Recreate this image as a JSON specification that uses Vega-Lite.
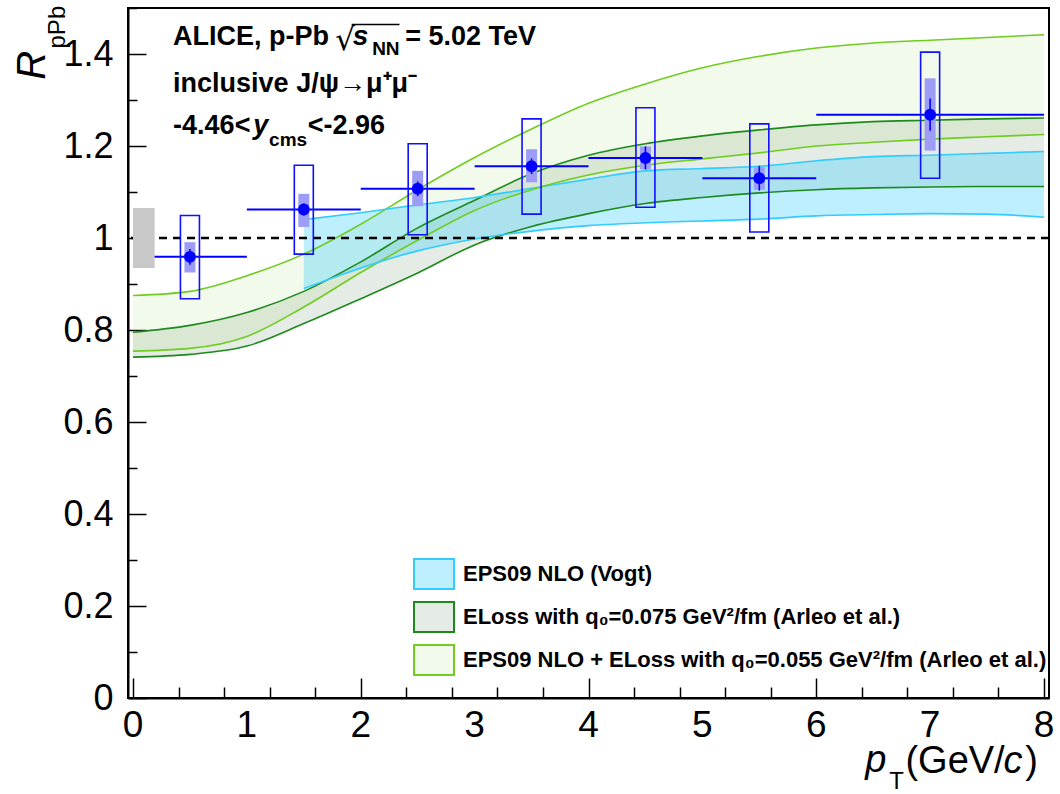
{
  "$schema": "https://vega.github.io/schema/vega-lite/v6.json",
  "width": 921,
  "height": 690,
  "autosize": {"type": "none"},
  "padding": {"left": 128, "top": 8, "right": 11, "bottom": 96},
  "background": "white",
  "config": {
    "view": {"stroke": "black", "strokeWidth": 2},
    "font": "Liberation Sans",
    "text": {"font": "Liberation Sans", "color": "black"}
  },
  "datasets": {
    "bands": [
      {"pt": 0, "model": "EPS09 NLO + ELoss with  q₀=0.055 GeV²/fm (Arleo et al.)", "lo": 0.754, "hi": 0.875},
      {"pt": 0.5, "model": "EPS09 NLO + ELoss with  q₀=0.055 GeV²/fm (Arleo et al.)", "lo": 0.760, "hi": 0.884},
      {"pt": 1, "model": "EPS09 NLO + ELoss with  q₀=0.055 GeV²/fm (Arleo et al.)", "lo": 0.786, "hi": 0.918},
      {"pt": 1.5, "model": "EPS09 NLO + ELoss with  q₀=0.055 GeV²/fm (Arleo et al.)", "lo": 0.850, "hi": 0.965},
      {"pt": 2, "model": "EPS09 NLO + ELoss with  q₀=0.055 GeV²/fm (Arleo et al.)", "lo": 0.925, "hi": 1.030},
      {"pt": 2.5, "model": "EPS09 NLO + ELoss with  q₀=0.055 GeV²/fm (Arleo et al.)", "lo": 0.995, "hi": 1.105},
      {"pt": 3, "model": "EPS09 NLO + ELoss with  q₀=0.055 GeV²/fm (Arleo et al.)", "lo": 1.060, "hi": 1.175},
      {"pt": 3.5, "model": "EPS09 NLO + ELoss with  q₀=0.055 GeV²/fm (Arleo et al.)", "lo": 1.105, "hi": 1.237},
      {"pt": 4, "model": "EPS09 NLO + ELoss with  q₀=0.055 GeV²/fm (Arleo et al.)", "lo": 1.137, "hi": 1.293},
      {"pt": 4.5, "model": "EPS09 NLO + ELoss with  q₀=0.055 GeV²/fm (Arleo et al.)", "lo": 1.158, "hi": 1.335},
      {"pt": 5, "model": "EPS09 NLO + ELoss with  q₀=0.055 GeV²/fm (Arleo et al.)", "lo": 1.172, "hi": 1.370},
      {"pt": 5.5, "model": "EPS09 NLO + ELoss with  q₀=0.055 GeV²/fm (Arleo et al.)", "lo": 1.185, "hi": 1.395},
      {"pt": 6, "model": "EPS09 NLO + ELoss with  q₀=0.055 GeV²/fm (Arleo et al.)", "lo": 1.200, "hi": 1.413},
      {"pt": 6.5, "model": "EPS09 NLO + ELoss with  q₀=0.055 GeV²/fm (Arleo et al.)", "lo": 1.208, "hi": 1.424},
      {"pt": 7, "model": "EPS09 NLO + ELoss with  q₀=0.055 GeV²/fm (Arleo et al.)", "lo": 1.215, "hi": 1.430},
      {"pt": 7.5, "model": "EPS09 NLO + ELoss with  q₀=0.055 GeV²/fm (Arleo et al.)", "lo": 1.220, "hi": 1.436},
      {"pt": 8, "model": "EPS09 NLO + ELoss with  q₀=0.055 GeV²/fm (Arleo et al.)", "lo": 1.225, "hi": 1.442},
      {"pt": 0, "model": "ELoss with  q₀=0.075 GeV²/fm (Arleo et al.)", "lo": 0.741, "hi": 0.795},
      {"pt": 0.5, "model": "ELoss with  q₀=0.075 GeV²/fm (Arleo et al.)", "lo": 0.747, "hi": 0.810},
      {"pt": 1, "model": "ELoss with  q₀=0.075 GeV²/fm (Arleo et al.)", "lo": 0.765, "hi": 0.838},
      {"pt": 1.5, "model": "ELoss with  q₀=0.075 GeV²/fm (Arleo et al.)", "lo": 0.814, "hi": 0.884},
      {"pt": 2, "model": "ELoss with  q₀=0.075 GeV²/fm (Arleo et al.)", "lo": 0.868, "hi": 0.948},
      {"pt": 2.5, "model": "ELoss with  q₀=0.075 GeV²/fm (Arleo et al.)", "lo": 0.924, "hi": 1.022},
      {"pt": 3, "model": "ELoss with  q₀=0.075 GeV²/fm (Arleo et al.)", "lo": 0.985, "hi": 1.082},
      {"pt": 3.5, "model": "ELoss with  q₀=0.075 GeV²/fm (Arleo et al.)", "lo": 1.025, "hi": 1.140},
      {"pt": 4, "model": "ELoss with  q₀=0.075 GeV²/fm (Arleo et al.)", "lo": 1.053, "hi": 1.180},
      {"pt": 4.5, "model": "ELoss with  q₀=0.075 GeV²/fm (Arleo et al.)", "lo": 1.075, "hi": 1.205},
      {"pt": 5, "model": "ELoss with  q₀=0.075 GeV²/fm (Arleo et al.)", "lo": 1.088, "hi": 1.222},
      {"pt": 5.5, "model": "ELoss with  q₀=0.075 GeV²/fm (Arleo et al.)", "lo": 1.098, "hi": 1.235},
      {"pt": 6, "model": "ELoss with  q₀=0.075 GeV²/fm (Arleo et al.)", "lo": 1.105, "hi": 1.246},
      {"pt": 6.5, "model": "ELoss with  q₀=0.075 GeV²/fm (Arleo et al.)", "lo": 1.109, "hi": 1.253},
      {"pt": 7, "model": "ELoss with  q₀=0.075 GeV²/fm (Arleo et al.)", "lo": 1.111, "hi": 1.256},
      {"pt": 7.5, "model": "ELoss with  q₀=0.075 GeV²/fm (Arleo et al.)", "lo": 1.112, "hi": 1.259},
      {"pt": 8, "model": "ELoss with  q₀=0.075 GeV²/fm (Arleo et al.)", "lo": 1.112, "hi": 1.261},
      {"pt": 1.5, "model": "EPS09 NLO (Vogt)", "lo": 0.890, "hi": 1.040},
      {"pt": 2, "model": "EPS09 NLO (Vogt)", "lo": 0.935, "hi": 1.055},
      {"pt": 2.5, "model": "EPS09 NLO (Vogt)", "lo": 0.972, "hi": 1.072},
      {"pt": 3, "model": "EPS09 NLO (Vogt)", "lo": 0.998, "hi": 1.088},
      {"pt": 3.5, "model": "EPS09 NLO (Vogt)", "lo": 1.015, "hi": 1.108},
      {"pt": 4, "model": "EPS09 NLO (Vogt)", "lo": 1.027, "hi": 1.128},
      {"pt": 4.5, "model": "EPS09 NLO (Vogt)", "lo": 1.033, "hi": 1.146},
      {"pt": 5, "model": "EPS09 NLO (Vogt)", "lo": 1.037, "hi": 1.151},
      {"pt": 5.5, "model": "EPS09 NLO (Vogt)", "lo": 1.041, "hi": 1.156},
      {"pt": 6, "model": "EPS09 NLO (Vogt)", "lo": 1.048, "hi": 1.168},
      {"pt": 6.5, "model": "EPS09 NLO (Vogt)", "lo": 1.051, "hi": 1.177},
      {"pt": 7, "model": "EPS09 NLO (Vogt)", "lo": 1.053, "hi": 1.180},
      {"pt": 7.5, "model": "EPS09 NLO (Vogt)", "lo": 1.052, "hi": 1.184},
      {"pt": 8, "model": "EPS09 NLO (Vogt)", "lo": 1.045, "hi": 1.188}
    ],
    "points": [
      {"pt": 0.5, "ptlo": 0, "pthi": 1, "r": 0.959, "slo": 0.942, "shi": 0.976, "ulo": 0.868, "uhi": 1.049, "clo": 0.925, "chi": 0.991},
      {"pt": 1.5, "ptlo": 1, "pthi": 2, "r": 1.062, "slo": 1.049, "shi": 1.075, "ulo": 0.965, "uhi": 1.158, "clo": 1.024, "chi": 1.096},
      {"pt": 2.5, "ptlo": 2, "pthi": 3, "r": 1.107, "slo": 1.091, "shi": 1.123, "ulo": 1.007, "uhi": 1.205, "clo": 1.069, "chi": 1.146},
      {"pt": 3.5, "ptlo": 3, "pthi": 4, "r": 1.156, "slo": 1.139, "shi": 1.173, "ulo": 1.052, "uhi": 1.259, "clo": 1.121, "chi": 1.193},
      {"pt": 4.5, "ptlo": 4, "pthi": 5, "r": 1.174, "slo": 1.149, "shi": 1.199, "ulo": 1.067, "uhi": 1.283, "clo": 1.149, "chi": 1.199},
      {"pt": 5.5, "ptlo": 5, "pthi": 6, "r": 1.130, "slo": 1.103, "shi": 1.157, "ulo": 1.013, "uhi": 1.248, "clo": 1.105, "chi": 1.154},
      {"pt": 7, "ptlo": 6, "pthi": 8, "r": 1.268, "slo": 1.233, "shi": 1.303, "ulo": 1.130, "uhi": 1.404, "clo": 1.190, "chi": 1.347}
    ],
    "norm": [{"lo": 0.935, "hi": 1.065}]
  },
  "layer": [
    {
      "data": {"name": "bands"},
      "mark": {"type": "area", "interpolate": "monotone"},
      "encoding": {
        "x": {"field": "pt", "type": "quantitative", "scale": {"domain": [0, 8], "nice": false, "zero": false},
          "axis": {
            "title": null, "grid": false, "labels": false,
            "values": [0,0.2,0.4,0.6,0.8,1,1.2,1.4,1.6,1.8,2,2.2,2.4,2.6,2.8,3,3.2,3.4,3.6,3.8,4,4.2,4.4,4.6,4.8,5,5.2,5.4,5.6,5.8,6,6.2,6.4,6.6,6.8,7,7.2,7.4,7.6,7.8,8],
            "tickSize": {"condition": {"test": "abs(datum.value - round(datum.value)) < 0.001", "value": -20}, "value": -11},
            "domainColor": "black", "domainWidth": 2, "tickColor": "black", "tickWidth": 1.5
          }},
        "y": {"field": "lo", "type": "quantitative", "scale": {"domain": [0, 1.5], "nice": false, "zero": true},
          "axis": {
            "title": null, "grid": false,
            "values": [0,0.05,0.1,0.15,0.2,0.25,0.3,0.35,0.4,0.45,0.5,0.55,0.6,0.65,0.7,0.75,0.8,0.85,0.9,0.95,1,1.05,1.1,1.15,1.2,1.25,1.3,1.35,1.4,1.45,1.5],
            "tickSize": {"condition": {"test": "abs(datum.value*5 - round(datum.value*5)) < 0.001", "value": -18}, "value": -9},
            "labelExpr": "abs(datum.value*5 - round(datum.value*5)) < 0.001 && datum.value < 1.45 ? datum.label : ''",
            "format": "~g",
            "labelPadding": 33,
            "labelFont": "Liberation Sans", "labelFontSize": 36, "labelColor": "black",
            "labelFlush": false, "labelOverlap": false,
            "domainColor": "black", "domainWidth": 2, "tickColor": "black", "tickWidth": 1.5
          }},
        "y2": {"field": "hi"},
        "fill": {"field": "model", "type": "nominal",
          "scale": {"domain": ["EPS09 NLO (Vogt)", "ELoss with  q₀=0.075 GeV²/fm (Arleo et al.)", "EPS09 NLO + ELoss with  q₀=0.055 GeV²/fm (Arleo et al.)"],
                    "range": ["rgba(51,204,255,0.32)", "rgba(70,120,70,0.14)", "rgba(150,210,90,0.12)"]},
          "legend": {
            "orient": "none", "legendX": 285, "legendY": 545, "title": null,
            "symbolType": "M-1,-0.75H1V0.75H-1Z", "symbolSize": 1600, "symbolStrokeWidth": 2,
            "labelFont": "Liberation Sans", "labelFontWeight": "bold", "labelFontSize": 22, "labelColor": "black",
            "labelLimit": 800, "labelOffset": 8, "rowPadding": 3,
            "encode": {"symbols": {"update": {"stroke": {"signal": "indexof(datum.value, 'Vogt') >= 0 ? '#33ccff' : (indexof(datum.value, '0.075') >= 0 ? '#1a7a1a' : '#70cc20')"}, "strokeWidth": {"value": 2}}}}
          }}
      }
    },
    {
      "data": {"name": "bands"},
      "mark": {"type": "line", "interpolate": "monotone", "strokeWidth": 1.6},
      "encoding": {
        "x": {"field": "pt", "type": "quantitative"},
        "y": {"field": "hi", "type": "quantitative"},
        "stroke": {"field": "model", "type": "nominal", "legend": null,
          "scale": {"domain": ["EPS09 NLO (Vogt)", "ELoss with  q₀=0.075 GeV²/fm (Arleo et al.)", "EPS09 NLO + ELoss with  q₀=0.055 GeV²/fm (Arleo et al.)"],
                    "range": ["#33ccff", "#1e8a1e", "#70cc20"]}}
      }
    },
    {
      "data": {"name": "bands"},
      "mark": {"type": "line", "interpolate": "monotone", "strokeWidth": 1.6},
      "encoding": {
        "x": {"field": "pt", "type": "quantitative"},
        "y": {"field": "lo", "type": "quantitative"},
        "stroke": {"field": "model", "type": "nominal", "legend": null}
      }
    },
    {
      "data": {"values": [{}]},
      "mark": {"type": "rule", "color": "black", "strokeWidth": 2.4, "strokeDash": [8, 6]},
      "encoding": {"y": {"datum": 1}}
    },
    {
      "data": {"name": "points"},
      "mark": {"type": "rule", "color": "#0000ff", "strokeWidth": 2},
      "encoding": {"x": {"field": "ptlo", "type": "quantitative"}, "x2": {"field": "pthi"}, "y": {"field": "r", "type": "quantitative"}}
    },
    {
      "data": {"name": "points"},
      "mark": {"type": "bar", "width": 11, "color": "#9d9df8"},
      "encoding": {"x": {"field": "pt", "type": "quantitative"}, "y": {"field": "clo", "type": "quantitative"}, "y2": {"field": "chi"}}
    },
    {
      "data": {"name": "points"},
      "mark": {"type": "bar", "width": 19, "fill": null, "fillOpacity": 0, "stroke": "#1010ff", "strokeWidth": 1.6},
      "encoding": {"x": {"field": "pt", "type": "quantitative"}, "y": {"field": "ulo", "type": "quantitative"}, "y2": {"field": "uhi"}}
    },
    {
      "data": {"name": "points"},
      "mark": {"type": "rule", "color": "#0000ff", "strokeWidth": 1.6},
      "encoding": {"x": {"field": "pt", "type": "quantitative"}, "y": {"field": "slo", "type": "quantitative"}, "y2": {"field": "shi"}}
    },
    {
      "data": {"name": "points"},
      "mark": {"type": "point", "filled": true, "shape": "circle", "size": 140, "color": "#0000ff", "opacity": 1},
      "encoding": {"x": {"field": "pt", "type": "quantitative"}, "y": {"field": "r", "type": "quantitative"}}
    },
    {
      "data": {"name": "norm"},
      "mark": {"type": "rect", "color": "#c8c8c8"},
      "encoding": {"x": {"datum": 0}, "x2": {"datum": 0.19}, "y": {"field": "lo", "type": "quantitative"}, "y2": {"field": "hi"}}
    },
    {"data": {"values": [{}]}, "mark": {"type": "text", "text": "0", "fontSize": 37, "align": "center", "baseline": "alphabetic"}, "encoding": {"x": {"datum": 0}, "y": {"datum": -0.084}}},
    {"data": {"values": [{}]}, "mark": {"type": "text", "text": "1", "fontSize": 37, "align": "center", "baseline": "alphabetic"}, "encoding": {"x": {"datum": 1}, "y": {"datum": -0.084}}},
    {"data": {"values": [{}]}, "mark": {"type": "text", "text": "2", "fontSize": 37, "align": "center", "baseline": "alphabetic"}, "encoding": {"x": {"datum": 2}, "y": {"datum": -0.084}}},
    {"data": {"values": [{}]}, "mark": {"type": "text", "text": "3", "fontSize": 37, "align": "center", "baseline": "alphabetic"}, "encoding": {"x": {"datum": 3}, "y": {"datum": -0.084}}},
    {"data": {"values": [{}]}, "mark": {"type": "text", "text": "4", "fontSize": 37, "align": "center", "baseline": "alphabetic"}, "encoding": {"x": {"datum": 4}, "y": {"datum": -0.084}}},
    {"data": {"values": [{}]}, "mark": {"type": "text", "text": "5", "fontSize": 37, "align": "center", "baseline": "alphabetic"}, "encoding": {"x": {"datum": 5}, "y": {"datum": -0.084}}},
    {"data": {"values": [{}]}, "mark": {"type": "text", "text": "6", "fontSize": 37, "align": "center", "baseline": "alphabetic"}, "encoding": {"x": {"datum": 6}, "y": {"datum": -0.084}}},
    {"data": {"values": [{}]}, "mark": {"type": "text", "text": "7", "fontSize": 37, "align": "center", "baseline": "alphabetic"}, "encoding": {"x": {"datum": 7}, "y": {"datum": -0.084}}},
    {"data": {"values": [{}]}, "mark": {"type": "text", "text": "8", "fontSize": 37, "align": "center", "baseline": "alphabetic"}, "encoding": {"x": {"datum": 8}, "y": {"datum": -0.084}}},
    {
      "data": {"values": [{}]},
      "mark": {"type": "text", "text": "ALICE, p-Pb", "fontSize": 27, "fontWeight": "bold", "align": "left", "baseline": "alphabetic"},
      "encoding": {"x": {"datum": 0.352}, "y": {"datum": 1.419}}
    },
    {
      "data": {"values": [{}]},
      "mark": {"type": "text", "text": "√", "fontSize": 31, "font": "DejaVu Sans", "align": "left", "baseline": "alphabetic"},
      "encoding": {"x": {"datum": 1.775}, "y": {"datum": 1.409}}
    },
    {
      "data": {"values": [{}]},
      "mark": {"type": "rule", "color": "black", "strokeWidth": 1.5},
      "encoding": {"x": {"datum": 1.92}, "x2": {"datum": 2.34}, "y": {"datum": 1.464}}
    },
    {
      "data": {"values": [{}]},
      "mark": {"type": "text", "text": "s", "fontSize": 28, "fontWeight": "bold", "fontStyle": "italic", "align": "left", "baseline": "alphabetic"},
      "encoding": {"x": {"datum": 1.93}, "y": {"datum": 1.419}}
    },
    {
      "data": {"values": [{}]},
      "mark": {"type": "text", "text": "NN", "fontSize": 19, "fontWeight": "bold", "align": "left", "baseline": "alphabetic"},
      "encoding": {"x": {"datum": 2.10}, "y": {"datum": 1.398}}
    },
    {
      "data": {"values": [{}]},
      "mark": {"type": "text", "text": "= 5.02 TeV", "fontSize": 27, "fontWeight": "bold", "align": "left", "baseline": "alphabetic"},
      "encoding": {"x": {"datum": 2.39}, "y": {"datum": 1.419}}
    },
    {
      "data": {"values": [{}]},
      "mark": {"type": "text", "text": "inclusive J/ψ→μ⁺μ⁻", "fontSize": 27, "fontWeight": "bold", "align": "left", "baseline": "alphabetic"},
      "encoding": {"x": {"datum": 0.352}, "y": {"datum": 1.317}}
    },
    {
      "data": {"values": [{}]},
      "mark": {"type": "text", "text": "-4.46<", "fontSize": 27, "fontWeight": "bold", "align": "left", "baseline": "alphabetic"},
      "encoding": {"x": {"datum": 0.352}, "y": {"datum": 1.227}}
    },
    {
      "data": {"values": [{}]},
      "mark": {"type": "text", "text": "y", "fontSize": 27, "fontWeight": "bold", "fontStyle": "italic", "align": "left", "baseline": "alphabetic"},
      "encoding": {"x": {"datum": 1.056}, "y": {"datum": 1.227}}
    },
    {
      "data": {"values": [{}]},
      "mark": {"type": "text", "text": "cms", "fontSize": 19, "fontWeight": "bold", "align": "left", "baseline": "alphabetic"},
      "encoding": {"x": {"datum": 1.195}, "y": {"datum": 1.199}}
    },
    {
      "data": {"values": [{}]},
      "mark": {"type": "text", "text": "<-2.96", "fontSize": 27, "fontWeight": "bold", "align": "left", "baseline": "alphabetic"},
      "encoding": {"x": {"datum": 1.534}, "y": {"datum": 1.227}}
    },
    {
      "data": {"values": [{}]},
      "mark": {"type": "text", "text": "R", "fontSize": 40, "fontStyle": "italic", "angle": 270, "align": "left", "baseline": "alphabetic"},
      "encoding": {"x": {"datum": -0.77}, "y": {"datum": 1.344}}
    },
    {
      "data": {"values": [{}]},
      "mark": {"type": "text", "text": "pPb", "fontSize": 24, "angle": 270, "align": "left", "baseline": "alphabetic"},
      "encoding": {"x": {"datum": -0.60}, "y": {"datum": 1.412}}
    },
    {
      "data": {"values": [{}]},
      "mark": {"type": "text", "text": "p", "fontSize": 38, "fontStyle": "italic", "align": "left", "baseline": "alphabetic"},
      "encoding": {"x": {"datum": 6.43}, "y": {"datum": -0.16}}
    },
    {
      "data": {"values": [{}]},
      "mark": {"type": "text", "text": "T", "fontSize": 24, "align": "left", "baseline": "alphabetic"},
      "encoding": {"x": {"datum": 6.64}, "y": {"datum": -0.198}}
    },
    {
      "data": {"values": [{}]},
      "mark": {"type": "text", "text": "(GeV/", "fontSize": 38, "align": "left", "baseline": "alphabetic"},
      "encoding": {"x": {"datum": 6.783}, "y": {"datum": -0.163}}
    },
    {
      "data": {"values": [{}]},
      "mark": {"type": "text", "text": "c", "fontSize": 38, "fontStyle": "italic", "align": "left", "baseline": "alphabetic"},
      "encoding": {"x": {"datum": 7.644}, "y": {"datum": -0.163}}
    },
    {
      "data": {"values": [{}]},
      "mark": {"type": "text", "text": ")", "fontSize": 38, "align": "left", "baseline": "alphabetic"},
      "encoding": {"x": {"datum": 7.835}, "y": {"datum": -0.163}}
    }
  ]
}
